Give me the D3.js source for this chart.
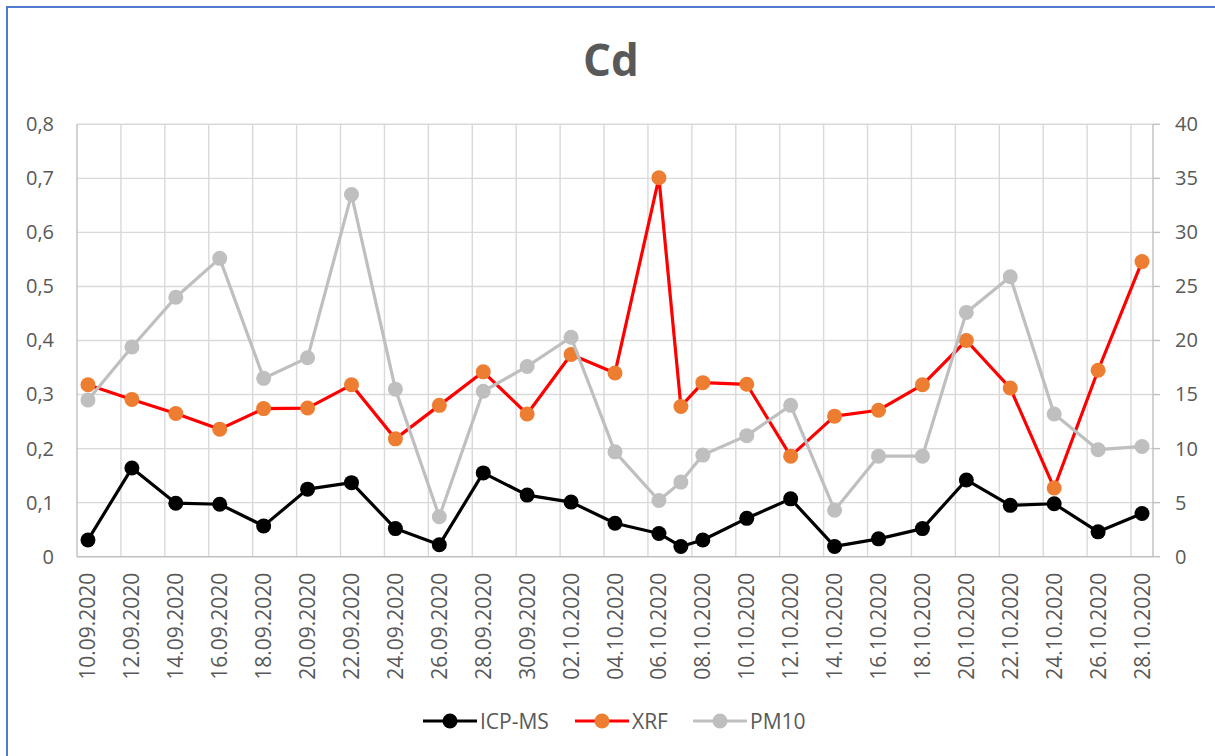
<!DOCTYPE html>
<html>
<head>
<meta charset="utf-8">
<title>Cd</title>
<script src="https://d3js.org/d3.v7.min.js"></script>
<style>
  body { margin: 0; background: #fff; }
  svg text { font-family: "Open Sans", sans-serif; fill: #595959; }
</style>
</head>
<body>
<div id="chart"></div>
<script>
// sampling dates (dd.mm.yyyy)
var dates = ["10.09.2020","12.09.2020","14.09.2020","16.09.2020","18.09.2020","20.09.2020",
  "22.09.2020","24.09.2020","26.09.2020","28.09.2020","30.09.2020","02.10.2020","04.10.2020",
  "06.10.2020","07.10.2020","08.10.2020","10.10.2020","12.10.2020","14.10.2020","16.10.2020",
  "18.10.2020","20.10.2020","22.10.2020","24.10.2020","26.10.2020","28.10.2020"];

// left axis series
var icpms = [0.031,0.164,0.099,0.097,0.057,0.125,0.137,0.052,0.022,0.155,0.114,0.101,0.062,
  0.043,0.019,0.031,0.071,0.107,0.019,0.033,0.052,0.142,0.095,0.098,0.046,0.080];
var xrf = [0.318,0.291,0.265,0.236,0.274,0.275,0.318,0.218,0.280,0.342,0.264,0.374,0.340,
  0.701,0.278,0.322,0.319,0.186,0.260,0.271,0.318,0.400,0.312,0.127,0.345,0.546];
// right axis series
var pm10 = [14.5,19.4,24.0,27.6,16.5,18.4,33.5,15.5,3.7,15.3,17.6,20.3,9.7,
  5.2,6.9,9.4,11.2,14.0,4.3,9.3,9.3,22.6,25.9,13.2,9.9,10.2];

var leftTicks = [0,0.1,0.2,0.3,0.4,0.5,0.6,0.7,0.8];
var rightTicks = [0,5,10,15,20,25,30,35,40];
var xTickLabels = ["10.09.2020","12.09.2020","14.09.2020","16.09.2020","18.09.2020","20.09.2020",
  "22.09.2020","24.09.2020","26.09.2020","28.09.2020","30.09.2020","02.10.2020","04.10.2020",
  "06.10.2020","08.10.2020","10.10.2020","12.10.2020","14.10.2020","16.10.2020","18.10.2020",
  "20.10.2020","22.10.2020","24.10.2020","26.10.2020","28.10.2020"];

var width = 1215, height = 756;
var plotL = 77, plotR = 1153, plotT = 124.3, plotB = 556.7;

var parse = d3.utcParse("%d.%m.%Y");
var mid = function(s) { return d3.utcHour.offset(parse(s), 12); };

var x = d3.scaleUtc()
  .domain([parse(dates[0]), d3.utcDay.offset(parse(dates[dates.length - 1]), 1)])
  .range([plotL, plotR]);
var yL = d3.scaleLinear().domain([0, 0.8]).range([plotB, plotT]);
var yR = d3.scaleLinear().domain([0, 40]).range([plotB, plotT]);

var svg = d3.select("#chart").append("svg")
  .attr("width", width).attr("height", height);

// chart border (blue)
svg.append("rect")
  .attr("x", 7).attr("y", 7).attr("width", width + 10).attr("height", height + 10)
  .attr("fill", "white").attr("stroke", "#4f7ad0").attr("stroke-width", 2);

// title
svg.append("text")
  .attr("x", 611).attr("y", 76)
  .attr("text-anchor", "middle")
  .style("font-size", "44px").style("font-weight", "bold")
  .text("Cd");

// gridlines
svg.append("g").selectAll("line").data(leftTicks.slice(1)).enter().append("line")
  .attr("x1", plotL).attr("x2", plotR)
  .attr("y1", function(d) { return yL(d); }).attr("y2", function(d) { return yL(d); })
  .attr("stroke", "#d9d9d9").attr("stroke-width", 1.4);
svg.append("g").selectAll("line").data(xTickLabels.slice(1)).enter().append("line")
  .attr("x1", function(d) { return x(parse(d)); }).attr("x2", function(d) { return x(parse(d)); })
  .attr("y1", plotT).attr("y2", plotB)
  .attr("stroke", "#d9d9d9").attr("stroke-width", 1.4);

// axis lines
var axisCol = "#bfbfbf";
svg.append("line").attr("x1", plotL).attr("x2", plotL).attr("y1", plotT).attr("y2", plotB)
  .attr("stroke", axisCol).attr("stroke-width", 1.4);
svg.append("line").attr("x1", plotL).attr("x2", plotR).attr("y1", plotB).attr("y2", plotB)
  .attr("stroke", axisCol).attr("stroke-width", 1.4);
svg.append("line").attr("x1", plotR).attr("x2", plotR).attr("y1", plotT).attr("y2", plotB)
  .attr("stroke", axisCol).attr("stroke-width", 1.4);
// right axis tick marks
svg.append("g").selectAll("line").data(rightTicks).enter().append("line")
  .attr("x1", plotR).attr("x2", plotR + 7)
  .attr("y1", function(d) { return yR(d); }).attr("y2", function(d) { return yR(d); })
  .attr("stroke", axisCol).attr("stroke-width", 1.4);

// left axis labels
var fmtL = function(d) { return d === 0 ? "0" : d.toFixed(1).replace(".", ","); };
var gL = svg.append("g")
  .attr("transform", "translate(" + plotL + ",0)")
  .call(d3.axisLeft(yL).tickValues(leftTicks).tickFormat(fmtL).tickSize(0).tickPadding(23));
gL.select(".domain").remove();
gL.selectAll("text").style("font-size", "20px").attr("fill", "#595959").style("font-family", null);

// right axis labels
var gR = svg.append("g")
  .attr("transform", "translate(" + plotR + ",0)")
  .call(d3.axisRight(yR).tickValues(rightTicks).tickSize(0).tickPadding(22));
gR.select(".domain").remove();
gR.selectAll("text").style("font-size", "20px").attr("fill", "#595959").style("font-family", null);

// x labels (rotated)
svg.append("g").selectAll("text").data(xTickLabels).enter().append("text")
  .attr("transform", function(d) {
    return "translate(" + (x(mid(d)) + 7.5) + "," + (plotB + 16) + ") rotate(-90)";
  })
  .attr("text-anchor", "end")
  .style("font-size", "21px")
  .text(function(d) { return d; });

// series
var series = [
  { name: "ICP-MS", values: icpms, y: yL, line: "#000000", marker: "#000000" },
  { name: "XRF", values: xrf, y: yL, line: "#ff0000", marker: "#ed7d31" },
  { name: "PM10", values: pm10, y: yR, line: "#bfbfbf", marker: "#bfbfbf" }
];

series.forEach(function(s) {
  var pts = dates.map(function(d, i) { return [x(mid(d)), s.y(s.values[i])]; });
  svg.append("path")
    .attr("d", d3.line()(pts))
    .attr("fill", "none").attr("stroke", s.line).attr("stroke-width", 3.2)
    .attr("stroke-linejoin", "round");
  svg.append("g").selectAll("circle").data(pts).enter().append("circle")
    .attr("cx", function(p) { return p[0]; }).attr("cy", function(p) { return p[1]; })
    .attr("r", 7.5).attr("fill", s.marker);
});

// legend
var legX = [423, 575, 693];
series.forEach(function(s, i) {
  var g = svg.append("g").attr("transform", "translate(" + legX[i] + ",721)");
  g.append("line").attr("x1", 0).attr("x2", 54).attr("y1", 0).attr("y2", 0)
    .attr("stroke", s.line).attr("stroke-width", 3.2);
  g.append("circle").attr("cx", 27).attr("cy", 0).attr("r", 7.5).attr("fill", s.marker);
  g.append("text").attr("x", 57).attr("y", 7.5).style("font-size", "21px").text(s.name);
});
</script>
</body>
</html>
